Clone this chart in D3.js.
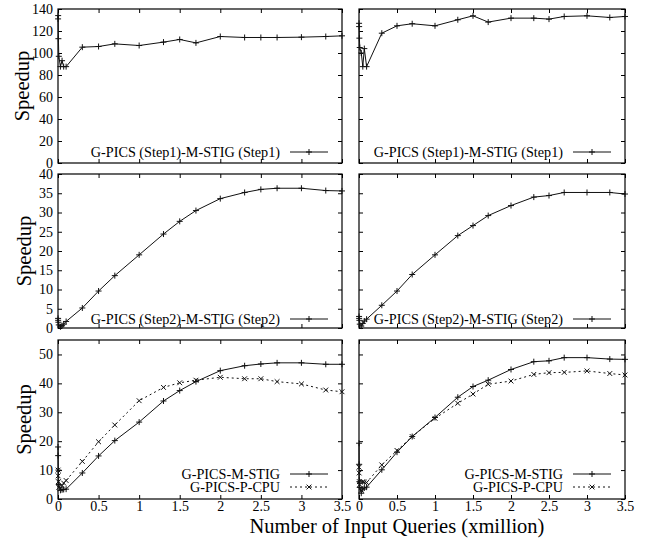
<!DOCTYPE html>
<html>
<head>
<meta charset="utf-8">
<script src="https://cdn.jsdelivr.net/npm/d3@7"></script>
<style>
  html, body { margin: 0; padding: 0; background: #fff; }
  svg { display: block; }
  svg text { font-family: "Liberation Serif", "Times New Roman", Times, serif; fill: #000; }
</style>
</head>
<body>
<svg id="chart" width="646" height="544"></svg>
<script>
// ---------------- data ----------------
const xValues = [0.001, 0.002, 0.005, 0.01, 0.03, 0.05, 0.07, 0.1, 0.3, 0.5, 0.7, 1.0, 1.3, 1.5, 1.7, 2.0, 2.3, 2.5, 2.7, 3.0, 3.3, 3.5];
const xTickValues = [0, 0.5, 1, 1.5, 2, 2.5, 3, 3.5];
const xTickLabels = ["0", "0.5", "1", "1.5", "2", "2.5", "3", "3.5"];

const step1Left  = [131, 134, 113, 97, 87.6, 93, 87.6, 87.6, 105.3, 105.9, 108.3, 106.8, 109.9, 112.3, 109.2, 115, 114.1, 114.1, 114.1, 114.4, 115, 115.6];
const step1Right = [127, 124, 113.5, 105, 100, 87.6, 104, 87.6, 118, 124.7, 126.6, 124.7, 130.2, 133.8, 128.1, 131.7, 131.7, 130.8, 133.2, 133.8, 132.3, 133.2];

const step2Left  = [2.5, 2, 1.5, 0.8, 0.3, 0.6, 1.0, 1.7, 5.2, 9.6, 13.6, 19, 24.4, 27.7, 30.5, 33.6, 35.2, 36, 36.3, 36.3, 35.7, 35.6];
const step2Right = [3, 2.5, 2, 1, 0.5, 1.2, 1.8, 2.3, 5.9, 9.6, 13.9, 19, 24, 26.6, 29.2, 31.8, 34, 34.4, 35.2, 35.2, 35.2, 34.8];

const mstigLeft  = [18, 15, 10, 5, 3, 3.2, 3.3, 3.4, 9, 14.9, 20.2, 26.6, 33.9, 37.5, 40.6, 44.4, 46.1, 46.7, 47.1, 47.1, 46.6, 46.6];
const pcpuLeft   = [10, 8, 6, 4, 3.5, 4.6, 5.5, 6.4, 13, 19.8, 25.6, 34, 38.6, 40.2, 41.1, 42.1, 41.6, 41.6, 40.6, 39.8, 37.7, 37.1];
const mstigRight = [19.3, 12, 6, 4, 2, 3.4, 3.8, 4.1, 10.1, 16.2, 21.6, 28.2, 35.2, 38.9, 41.1, 44.8, 47.5, 47.8, 48.9, 48.9, 48.4, 48.3];
const pcpuRight  = [11, 9, 6, 5, 3, 6, 5.8, 5.7, 11.8, 16.8, 21.6, 27.9, 33.1, 36.3, 39.7, 40.8, 43.1, 43.7, 43.8, 44.3, 43.4, 42.9];

const yTicksTop = [0, 20, 40, 60, 80, 100, 120, 140];
const yTicksMid = [0, 5, 10, 15, 20, 25, 30, 35, 40];
const yTicksBot = [0, 10, 20, 30, 40, 50];

const legendStep1 = "G-PICS (Step1)-M-STIG (Step1)";
const legendStep2 = "G-PICS (Step2)-M-STIG (Step2)";
const legendMstig = "G-PICS-M-STIG";
const legendPcpu = "G-PICS-P-CPU";
const yTitle = "Speedup";
const xTitle = "Number of Input Queries (xmillion)";

// ---------------- layout ----------------
const cols = [{x0: 58, x1: 342}, {x0: 359, x1: 625}];
const rows = [
  {y0: 9, y1: 163, domain: [0, 140], ticks: yTicksTop},
  {y0: 174, y1: 328, domain: [0, 40], ticks: yTicksMid},
  {y0: 340, y1: 499, domain: [0, 55], ticks: yTicksBot}
];

const panels = [
  {r: 0, c: 0, series: [{vals: step1Left, name: legendStep1, dash: null, mark: "plus"}]},
  {r: 0, c: 1, series: [{vals: step1Right, name: legendStep1, dash: null, mark: "plus"}]},
  {r: 1, c: 0, series: [{vals: step2Left, name: legendStep2, dash: null, mark: "plus"}]},
  {r: 1, c: 1, series: [{vals: step2Right, name: legendStep2, dash: null, mark: "plus"}]},
  {r: 2, c: 0, series: [{vals: mstigLeft, name: legendMstig, dash: null, mark: "plus"},
                        {vals: pcpuLeft, name: legendPcpu, dash: "2,3", mark: "cross"}]},
  {r: 2, c: 1, series: [{vals: mstigRight, name: legendMstig, dash: null, mark: "plus"},
                        {vals: pcpuRight, name: legendPcpu, dash: "2,3", mark: "cross"}]}
];

const svg = d3.select("#chart");
const serif = "Liberation Serif, Times New Roman, Times, serif";
const tickFont = 14;
const legendFont = 14.2;
const titleFont = 20.5;

function markerPath(kind, s) {
  if (kind === "plus") return `M${-s},0H${s}M0,${-s}V${s}`;
  const t = s * 0.8;
  return `M${-t},${-t}L${t},${t}M${-t},${t}L${t},${-t}`;
}

panels.forEach(p => {
  const col = cols[p.c], row = rows[p.r];
  const x = d3.scaleLinear().domain([0, 3.5]).range([col.x0, col.x1]);
  const y = d3.scaleLinear().domain(row.domain).range([row.y1, row.y0]);
  const g = svg.append("g");

  const showY = p.c === 0;
  const showX = p.r === 2;
  const left = g.append("g").attr("transform", `translate(${col.x0},0)`)
    .call(d3.axisLeft(y).tickValues(row.ticks).tickSize(-4).tickPadding(5)
      .tickFormat(showY ? d3.format("") : () => ""));
  const right = g.append("g").attr("transform", `translate(${col.x1},0)`)
    .call(d3.axisRight(y).tickValues(row.ticks).tickSize(-4).tickFormat(() => ""));
  const bottom = g.append("g").attr("transform", `translate(0,${row.y1})`)
    .call(d3.axisBottom(x).tickValues(xTickValues).tickSize(-4).tickPadding(2)
      .tickFormat(showX ? (d, i) => xTickLabels[i] : () => ""));
  const top = g.append("g").attr("transform", `translate(0,${row.y0})`)
    .call(d3.axisTop(x).tickValues(xTickValues).tickSize(-4).tickFormat(() => ""));
  [left, right, bottom, top].forEach(a => {
    a.attr("font-family", serif);
    a.select(".domain").remove();
    a.selectAll("line").attr("stroke", "#000").attr("stroke-width", 1);
    a.selectAll("text").attr("font-size", tickFont).attr("font-family", serif).attr("fill", "#000");
  });

  // frame
  g.append("rect").attr("x", col.x0).attr("y", row.y0)
    .attr("width", col.x1 - col.x0).attr("height", row.y1 - row.y0)
    .attr("fill", "none").attr("stroke", "#000").attr("stroke-width", 1.2);

  // series
  const line = d3.line().x((d, i) => x(xValues[i])).y(d => y(d));
  p.series.forEach(s => {
    g.append("path").datum(s.vals).attr("d", line)
      .attr("fill", "none").attr("stroke", "#111").attr("stroke-width", 1)
      .attr("stroke-dasharray", s.dash);
    g.selectAll(null).data(s.vals).enter().append("path")
      .attr("transform", (d, i) => `translate(${x(xValues[i])},${y(d)})`)
      .attr("d", markerPath(s.mark, 3))
      .attr("stroke", "#111").attr("stroke-width", 1).attr("fill", "none");
  });

  // legend
  const lineEnd = col.x1 - 14, lineStart = lineEnd - 38;
  const legY0 = p.r === 2 ? 474 : (p.r === 0 ? 152 : 319);
  p.series.forEach((s, k) => {
    const ly = legY0 + k * 13;
    g.append("text").attr("x", lineStart - 10).attr("y", ly).attr("dy", "0.35em")
      .attr("text-anchor", "end").attr("font-size", legendFont).attr("font-family", serif).text(s.name);
    g.append("line").attr("x1", lineStart).attr("x2", lineEnd).attr("y1", ly).attr("y2", ly)
      .attr("stroke", "#111").attr("stroke-width", 1).attr("stroke-dasharray", s.dash);
    g.append("path").attr("transform", `translate(${(lineStart + lineEnd) / 2},${ly})`)
      .attr("d", markerPath(s.mark, 3)).attr("stroke", "#111").attr("fill", "none");
  });

  // y title
  if (showY) {
    const cy = (row.y0 + row.y1) / 2;
    g.append("text").attr("transform", `translate(${p.r === 0 ? 29 : 31},${cy}) rotate(-90)`)
      .attr("text-anchor", "middle").attr("font-size", titleFont).attr("font-family", serif).text(yTitle);
  }
});

svg.append("text").attr("x", 397).attr("y", 533).attr("text-anchor", "middle")
  .attr("font-size", titleFont).attr("font-family", serif).text(xTitle);
</script>
</body>
</html>
